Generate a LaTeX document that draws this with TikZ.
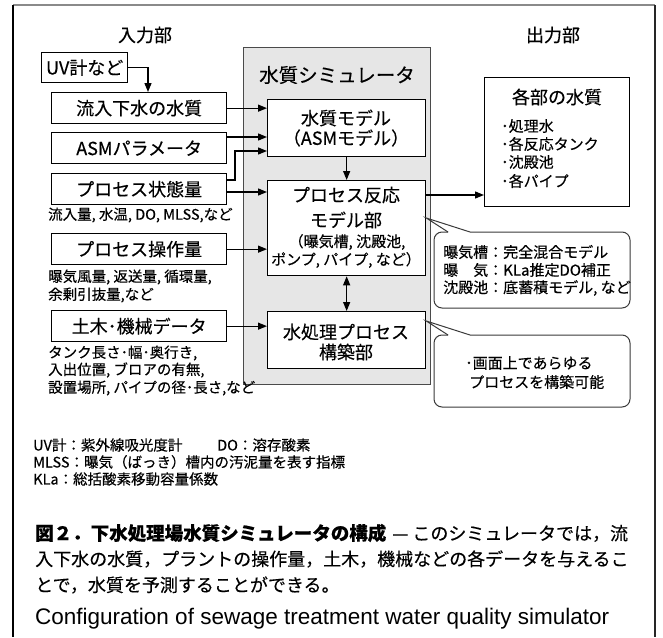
\documentclass[tikz,border=0pt]{standalone}
\usepackage{fontspec}
\setmainfont{Noto Sans CJK JP}[FakeBold=0.3]
\newfontfamily\enfont{Liberation Sans}
\usetikzlibrary{arrows.meta}
\definecolor{simgray}{HTML}{E6E6E6}
\definecolor{simborder}{HTML}{4A4A4A}
\definecolor{framegray}{HTML}{8A8A8A}
\definecolor{callgray}{HTML}{3A3A3A}
\begin{document}
\begin{tikzpicture}[x=1pt,y=-1pt,
  jbox/.style={draw=black, line width=1.3pt, fill=white, inner sep=0pt, anchor=north west,
    font=\fontsize{18}{20}\selectfont},
  jinbox/.style={jbox, minimum width=175pt, minimum height=31pt},
  jlab/.style={inner sep=0pt, font=\fontsize{18}{20}\selectfont},
  jlabbig/.style={inner sep=0pt, font=\fontsize{19.5}{21}\selectfont},
  jsub/.style={inner sep=0pt, anchor=west, font=\fontsize{14.5}{16}\selectfont},
  jitem/.style={inner sep=0pt, anchor=west, font=\fontsize{15}{17}\selectfont},
  jcall/.style={inner sep=0pt, anchor=west, font=\fontsize{15}{17}\selectfont},
  jmid/.style={inner sep=0pt, font=\fontsize{15}{17}\selectfont},
  jnote/.style={inner sep=0pt, anchor=west, font=\fontsize{14.5}{16}\selectfont},
  jcap/.style={inner sep=0pt, anchor=west, font=\fontsize{18}{20}\selectfont},
  jarr/.style={line width=1.3pt, -{Triangle[length=9pt,width=7pt]}},
  jdarr/.style={line width=1.3pt, {Triangle[length=9pt,width=7pt]}-{Triangle[length=9pt,width=7pt]}},
  jcallout/.style={draw=callgray, line width=1pt, rounded corners=8pt}
]
\useasboundingbox (0,0) rectangle (663,637);
\fill[white] (0,0) rectangle (663,637);
% outer frame
\draw[framegray, line width=1.5pt] (13,5) -- (655,5);
\draw[black, line width=1.5pt] (13,5) -- (13,637);
\draw[black!85, line width=1.2pt] (655,5) -- (655,637);

% headings
\node[jlab] (inhead) at (145,35) {入力部};
\node[jlab] (outhead) at (553,35) {出力部};

% simulator block
\node[draw=simborder, fill=simgray, line width=1.3pt, minimum width=187pt, minimum height=337pt,
  inner sep=0pt, anchor=north west] (sim) at (243,47) {};
\node[jlabbig] (simtitle) at (337,75) {水質シミュレータ};

% inner boxes
\node[jbox, minimum width=158pt, minimum height=57pt] (qm) at (267,99) {};
\node[jlab] (qm1) at (346,118) {水質モデル};
\node[jlab] (qm2) at (346,138) {（ASMモデル）};

\node[jbox, minimum width=158pt, minimum height=95pt] (pr) at (267,180) {};
\node[jlab] (pr1) at (346,195) {プロセス反応};
\node[jlab] (pr2) at (346,220) {モデル部};
\node[jmid] (pr3) at (347,242) {（曝気槽, 沈殿池,};
\node[jmid] (pr4) at (346,260) {ポンプ, パイプ, など）};

\node[jbox, minimum width=158pt, minimum height=57pt] (wt) at (267,311) {};
\node[jlab] (wt1) at (346,332) {水処理プロセス};
\node[jlab] (wt2) at (346,352) {構築部};

% output box
\node[jbox, minimum width=145pt, minimum height=129pt] (out) at (484,77) {};
\node[jlab] (outtitle) at (557,97) {各部の水質};
\node[jitem] (o1) at (501,126) {･処理水};
\node[jitem] (o2) at (501,144) {･各反応タンク};
\node[jitem] (o3) at (501,162) {･沈殿池};
\node[jitem] (o4) at (501,181) {･各パイプ};

% input boxes
\node[jbox, minimum width=86pt, minimum height=30pt] (uv) at (41,52) {UV計など};
\node[jinbox] (in) at (51,92) {流入下水の水質};
\node[jinbox] (asm) at (51,132) {ASMパラメータ};
\node[jinbox] (st) at (51,173) {プロセス状態量};
\node[jinbox] (op) at (51,233) {プロセス操作量};
\node[jinbox] (cv) at (51,310) {土木･機械データ};

\node[jsub] (stn) at (48,215) {流入量, 水温, DO, MLSS,など};
\node[jsub] (opn1) at (48,277) {曝気風量, 返送量, 循環量,};
\node[jsub] (opn2) at (48,295) {余剰引抜量,など};
\node[jsub] (cvn1) at (48,353) {タンク長さ･幅･奥行き,};
\node[jsub] (cvn2) at (48,370) {入出位置, ブロアの有無,};
\node[jsub] (cvn3) at (48,388) {設置場所, パイプの径･長さ,など};

% arrows
\draw[jarr] (uv.east) -| (in.north -| 148,0);
\draw[jarr] (in.east) -- (in.east -| qm.west);
\draw[jarr] (asm.east |- 0,137) -- (qm.west |- 0,137);
\draw[jarr] (st.east |- 0,180) -| (235,151) -- (qm.west |- 0,151);
\draw[jarr] (st.east |- 0,192) -- (pr.west |- 0,192);
\draw[jarr] (op.east) -- (op.east -| pr.west);
\draw[jarr] (cv.east) -- (cv.east -| wt.west);
\draw[jarr] (qm.south) -- (pr.north);
\draw[jdarr] (pr.south) -- (wt.north);
\draw[jarr] (pr.east |- 0,195) -- (out.west |- 0,195);

% callout 1
\draw[jcallout] (448,232) -- (434,232) -- (434,308) -- (630,308) -- (630,232) -- (470,232);
\draw[callgray, line width=1pt] (448,232) -- (pr.east |- 0,218) -- (470,232);
\node[jcall] (c1a) at (443,252) {曝気槽：完全混合モデル};
\node[jcall] (c1b) at (443,270) {曝　気：KLa推定DO補正};
\node[jcall] (c1c) at (443,288) {沈殿池：底蓄積モデル, など};

% callout 2
\draw[jcallout] (448,335) -- (434,335) -- (434,407) -- (630,407) -- (630,335) -- (470,335);
\draw[callgray, line width=1pt] (448,335) -- (wt.east |- 0,321) -- (470,335);
\node[jcall] (c2a) at (465,363) {･画面上であらゆる};
\node[jcall] (c2b) at (469,382) {プロセスを構築可能};

% footnotes
\node[jnote] (f1) at (33,445) {UV計：紫外線吸光度計};
\node[jnote] (f2) at (217,445) {DO：溶存酸素};
\node[jnote] (f3) at (33,462) {MLSS：曝気（ばっき）槽内の汚泥量を表す指標};
\node[jnote] (f4) at (33,479) {KLa：総括酸素移動容量係数};

% caption
\node[jcap] (cap1) at (35,533) {{\fontsize{18.5}{20}\selectfont\bfseries 図２．下水処理場水質シミュレータの構成}\hspace{6pt}—\hspace{4pt}このシミュレータでは，流};
\node[jcap] (cap2) at (35,559) {入下水の水質，プラントの操作量，土木，機械などの各データを与えるこ};
\node[jcap] (cap3) at (35,585) {とで，水質を予測することができる。};
\node[jcap, font=\enfont\fontsize{22.5}{25}\selectfont] (cap4) at (35,619) {Configuration of sewage treatment water quality simulator};
\end{tikzpicture}
\end{document}
